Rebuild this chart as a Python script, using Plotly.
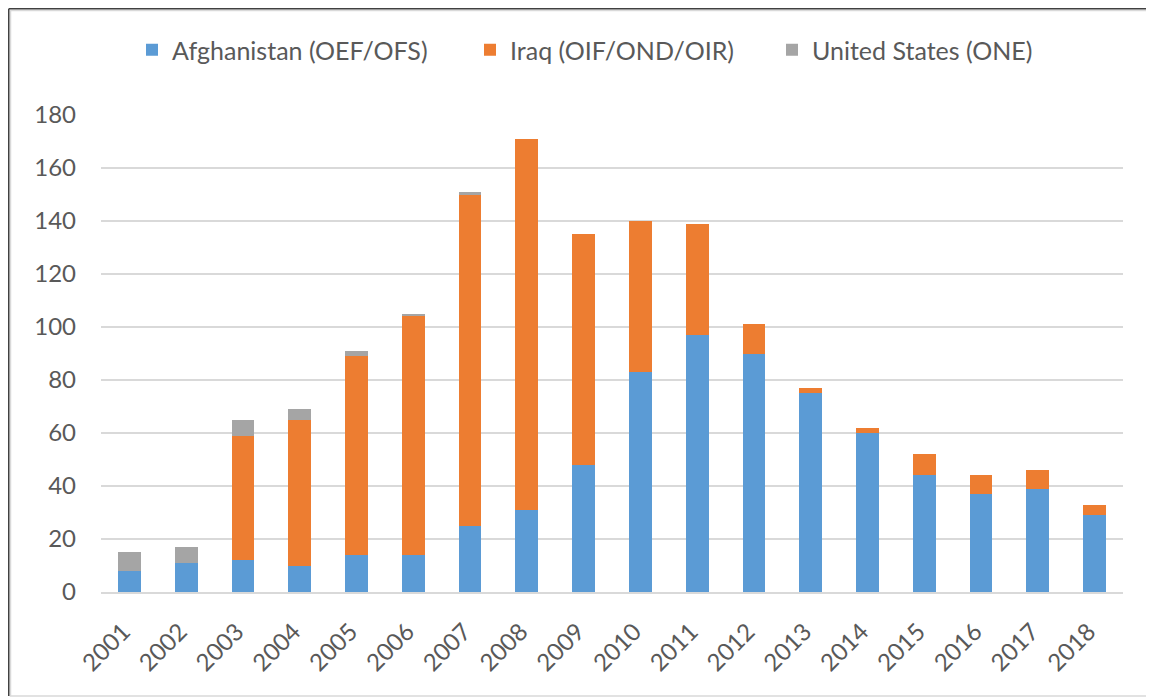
import plotly.graph_objects as go

years = [str(y) for y in range(2001, 2019)]
afghanistan = [8, 11, 12, 10, 14, 14, 25, 31, 48, 83, 97, 90, 75, 60, 44, 37, 39, 29]
iraq = [0, 0, 47, 55, 75, 90, 125, 140, 87, 57, 42, 11, 2, 2, 8, 7, 7, 4]
united_states = [7, 6, 6, 4, 2, 1, 1, 0, 0, 0, 0, 0, 0, 0, 0, 0, 0, 0]
y_ticks = [0, 20, 40, 60, 80, 100, 120, 140, 160, 180]

# page body has an 8px margin, so the figure is drawn at (8, 8)
W, H = 1146, 690
ml, mt = 93, 107
pw, ph = 1022, 477
mr, mb = W - ml - pw, H - mt - ph


def px(x):
    return (x - ml) / pw


def py(y):
    return 1 - (y - mt) / ph


fig = go.Figure()
fig.add_trace(go.Bar(x=years, y=afghanistan, name="Afghanistan (OEF/OFS)", showlegend=True,
                     marker=dict(color="#5B9BD5", line=dict(width=0)), legend="legend"))
fig.add_trace(go.Bar(x=years, y=iraq, name="Iraq (OIF/OND/OIR)", showlegend=True,
                     marker=dict(color="#ED7D31", line=dict(width=0)), legend="legend2"))
fig.add_trace(go.Bar(x=years, y=united_states, name="United States (ONE)", showlegend=True,
                     marker=dict(color="#A5A5A5", line=dict(width=0)), legend="legend3"))

leg_common = dict(orientation="h", xanchor="left", y=py(42), yanchor="middle",
                  font=dict(size=25, color="#595959"), itemwidth=30,
                  bgcolor="rgba(0,0,0,0)")

fig.update_layout(
    showlegend=True,
    barmode="stack",
    bargap=0.6,
    width=W, height=H,
    margin=dict(l=ml, r=mr, t=mt, b=mb, autoexpand=False),
    paper_bgcolor="white", plot_bgcolor="white",
    font=dict(family="Lato, Open Sans, sans-serif", color="#595959"),
    legend=dict(x=px(150 - 8 - 18), **leg_common),
    legend2=dict(x=px(488 - 8 - 18), **leg_common),
    legend3=dict(x=px(790 - 8 - 18), **leg_common),
    xaxis=dict(showgrid=False, tickangle=-45, tickfont=dict(size=24, color="#595959"),
               showline=True, linecolor="#D9D9D9", linewidth=2, ticks="",
               ticklabelstandoff=14, ticklabelshift=-6),
    yaxis=dict(range=[0, 180], tickvals=y_ticks, showgrid=True, gridcolor="#D9D9D9",
               gridwidth=1.5, zeroline=False, showline=False,
               tickfont=dict(size=24, color="#595959"), ticklen=0, ticks="",
               ticklabelstandoff=24),
    shapes=[
        dict(type="rect", xref="paper", yref="paper",
             x0=px(2.5), x1=px(1143), y0=py(688), y1=py(2.5),
             line=dict(color="#D9D9D9", width=1.5), layer="below"),
        dict(type="line", xref="paper", yref="paper",
             x0=px(0.75), x1=px(0.75), y0=py(688), y1=py(0.75),
             line=dict(color="#404040", width=1.5)),
        dict(type="line", xref="paper", yref="paper",
             x0=px(0.75), x1=px(1143), y0=py(0.75), y1=py(0.75),
             line=dict(color="#404040", width=1.5)),
    ],
)

fig.write_html("out.html")
